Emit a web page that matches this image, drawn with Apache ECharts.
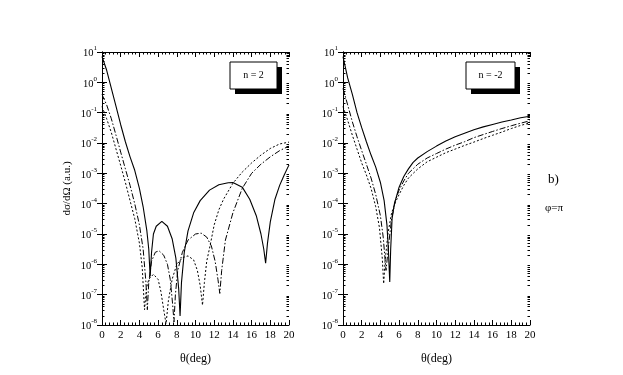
<!DOCTYPE html>
<html>
<head>
<meta charset="utf-8">
<script src="https://cdn.jsdelivr.net/npm/echarts@6/dist/echarts.min.js"></script>
<style>
html,body{margin:0;padding:0;background:#fff;}
#chart{width:623px;height:375px;}
</style>
</head>
<body>
<div id="chart"></div>
<script>
// ---- data: [theta (deg), dsigma/dOmega (a.u.)] ----
const xTicks = [0, 2, 4, 6, 8, 10, 12, 14, 16, 18, 20];
const yDecades = [-8, -7, -6, -5, -4, -3, -2, -1, 0, 1];
const yMinorMantissas = [2, 3, 4, 5, 6, 7, 8, 9];
const panelLabels = ['n = 2', 'n = -2'];

const n2Solid = [[0,7.1],[0.5,2.5],[1,0.63],[1.5,0.16],[2,4e-2],[2.5,1.1e-2],[3,3.5e-3],[3.5,1.26e-3],[4,3.2e-4],[4.4,7.9e-5],[4.8,1.26e-5],[5,3.2e-6],[5.15,4e-7],[5.3,2.5e-6],[5.5,1e-5],[5.8,1.8e-5],[6.4,2.6e-5],[7,1.8e-5],[7.5,7e-6],[7.9,1.6e-6],[8.2,1.6e-7],[8.35,2e-8],[8.5,2.5e-7],[8.8,2.5e-6],[9.2,1.26e-5],[9.8,5e-5],[10.5,1.26e-4],[11.5,2.8e-4],[12.5,4.2e-4],[13.5,4.9e-4],[14,5e-4],[15,3.5e-4],[15.8,1.4e-4],[16.5,4e-5],[17,1e-5],[17.3,3.2e-6],[17.5,1.1e-6],[17.7,5e-6],[18,2.5e-5],[18.5,1.4e-4],[19,4e-4],[19.5,9e-4],[20,1.9e-3]];
const n2DashDot = [[0,0.4],[0.5,0.18],[1,6.3e-2],[1.5,1.8e-2],[2,5e-3],[2.5,1.4e-3],[3,4e-4],[3.5,1e-4],[4,2e-5],[4.4,3.2e-6],[4.7,2.5e-7],[4.85,3.2e-8],[5,2.5e-7],[5.3,1.26e-6],[5.7,2.5e-6],[6.1,2.8e-6],[6.6,2e-6],[7,1e-6],[7.3,3.2e-7],[7.55,5e-8],[7.7,1.26e-8],[7.85,1e-7],[8.1,6.3e-7],[8.6,2.5e-6],[9.2,6.3e-6],[10,1e-5],[10.6,1.07e-5],[11.2,7.9e-6],[11.7,4e-6],[12.1,1.26e-6],[12.4,3.2e-7],[12.6,1.1e-7],[12.8,6.3e-7],[13.2,6.3e-6],[14,5e-5],[15,3.2e-4],[16,1e-3],[17,2e-3],[18,3.5e-3],[19,5.6e-3],[20,7.9e-3]];
const n2Dotted = [[0,0.16],[0.5,6.3e-2],[1,2.2e-2],[1.5,6.3e-3],[2,1.8e-3],[2.5,5e-4],[3,1.26e-4],[3.5,3.2e-5],[4,5e-6],[4.3,7.9e-7],[4.55,3.2e-8],[4.75,1.6e-7],[5,3.2e-7],[5.5,4.7e-7],[6,3.2e-7],[6.3,1.26e-7],[6.6,3.2e-8],[6.85,1.1e-8],[7.1,6.3e-8],[7.5,3.2e-7],[8,1e-6],[8.6,1.66e-6],[9.2,1.9e-6],[9.8,1.4e-6],[10.2,6.3e-7],[10.5,2e-7],[10.75,4.5e-8],[10.95,2.5e-7],[11.2,1.26e-6],[11.55,4e-6],[12,2e-5],[12.5,6.3e-5],[13,1.4e-4],[14,4.7e-4],[15,1.1e-3],[16,2.2e-3],[17,4e-3],[18,6.6e-3],[19,9.3e-3],[20,1.07e-2]];

const nm2Solid = [[0,7.1],[0.5,1.4],[1,0.4],[1.5,0.1],[2,3.2e-2],[2.5,1.1e-2],[3,4e-3],[3.5,1.6e-3],[4,5e-4],[4.4,1.26e-4],[4.7,2e-5],[4.85,3.2e-6],[5,2.6e-7],[5.1,3.2e-6],[5.25,3.2e-5],[5.5,1e-4],[6,3.5e-4],[6.5,7.9e-4],[7,1.4e-3],[7.5,2.3e-3],[8,3.2e-3],[9,5.2e-3],[10,7.9e-3],[11,1.17e-2],[12,1.6e-2],[13,2.1e-2],[14,2.75e-2],[15,3.4e-2],[16,4.1e-2],[17,4.9e-2],[18,5.75e-2],[19,6.8e-2],[20,7.6e-2]];
const nm2DashDot = [[0,0.63],[0.5,0.18],[1,5e-2],[1.5,1.6e-2],[2,5.6e-3],[2.5,2e-3],[3,7e-4],[3.5,2e-4],[4,4e-5],[4.3,7.9e-6],[4.6,6.3e-7],[4.9,5e-6],[5.2,3.2e-5],[5.6,1.26e-4],[6,2.8e-4],[6.5,5.6e-4],[7,1e-3],[8,2e-3],[9,3.2e-3],[10,4.5e-3],[11,6.3e-3],[12,8.5e-3],[13,1.1e-2],[14,1.5e-2],[15,1.9e-2],[16,2.4e-2],[17,3e-2],[18,3.7e-2],[19,4.5e-2],[20,5.4e-2]];
const nm2Dotted = [[0,0.16],[0.5,5.6e-2],[1,1.8e-2],[1.5,6.3e-3],[2,2.2e-3],[2.5,8.9e-4],[3,3.2e-4],[3.5,7.9e-5],[3.9,1.6e-5],[4.2,1.6e-6],[4.35,2.3e-7],[4.5,1.26e-6],[4.8,1e-5],[5.2,5e-5],[5.6,1.1e-4],[6,2e-4],[6.5,4e-4],[7,7e-4],[8,1.4e-3],[9,2.4e-3],[10,3.4e-3],[11,4.8e-3],[12,6.3e-3],[13,8.3e-3],[14,1.07e-2],[15,1.4e-2],[16,1.8e-2],[17,2.3e-2],[18,3e-2],[19,3.8e-2],[20,4.6e-2]];

// ---- chart ----
const SERIF = '"Liberation Serif", "DejaVu Serif", serif';
const chart = echarts.init(document.getElementById('chart'), null, {renderer: 'canvas'});

// log-spaced minor tick values (2..9 x 10^k) for the decades shown
const yMinorValues = [];
yDecades.slice(0, -1).forEach(function (e) {
  yMinorMantissas.forEach(function (m) { yMinorValues.push(Number((m + 'e' + e))); });
});

function xAx(grid, pos, showLabels, name) {
  return {
    type: 'value', gridIndex: grid, position: pos, min: xTicks[0], max: xTicks[xTicks.length - 1], interval: 2,
    name: name || '', nameLocation: 'middle', nameGap: 28,
    nameTextStyle: {fontFamily: SERIF, fontSize: 12, color: '#000'},
    axisLine: {show: true, onZero: false, lineStyle: {color: '#000', width: 1}},
    axisTick: {show: true, inside: true, length: 5, lineStyle: {color: '#000'}},
    minorTick: {show: true, splitNumber: 5, length: 2.5, lineStyle: {color: '#000'}},
    splitLine: {show: false},
    axisLabel: {show: showLabels, margin: 5, fontFamily: SERIF, fontSize: 11, color: '#000'}
  };
}
function yAx(grid, pos, showLabels, name) {
  return {
    type: 'log', logBase: 10, gridIndex: grid, position: pos, min: 1e-8, max: 10, splitNumber: 10,
    name: name || '', nameLocation: 'middle', nameGap: 29,
    nameTextStyle: {fontFamily: SERIF, fontSize: 11, color: '#000'},
    axisLine: {show: true, lineStyle: {color: '#000', width: 1}},
    axisTick: {show: true, inside: true, length: 5, lineStyle: {color: '#000'}},
    minorTick: {show: false},
    splitLine: {show: false},
    axisLabel: {
      show: showLabels, margin: 5,
      formatter: function (v) {
        const e = Math.round(Math.log10(v));
        return '{b|10}{s|' + e + '}';
      },
      rich: {
        b: {fontFamily: SERIF, fontSize: 10.5, color: '#000', lineHeight: 14, verticalAlign: 'bottom'},
        s: {fontFamily: SERIF, fontSize: 7, color: '#000', lineHeight: 14, verticalAlign: 'top'}
      }
    }
  };
}
// overlay axis carrying only the log-spaced minor ticks
function yMinorAx(grid, pos) {
  return {
    type: 'log', logBase: 10, gridIndex: grid, position: pos, min: 1e-8, max: 10,
    axisLine: {show: false},
    axisTick: {show: true, inside: true, length: 2.5, customValues: yMinorValues, lineStyle: {color: '#000'}},
    axisLabel: {show: false, customValues: yMinorValues},
    splitLine: {show: false}
  };
}
function ser(data, xi, yi, type, w) {
  return {
    type: 'line', data: data, xAxisIndex: xi, yAxisIndex: yi, showSymbol: false, symbol: 'none',
    clip: true, animation: false,
    lineStyle: {color: '#000', width: w, type: type}
  };
}

const dashDot = [6, 2, 1.5, 2];
const dotted = [2, 2];

chart.setOption({
  backgroundColor: '#fff',
  animation: false,
  grid: [
    {left: 102, top: 52, width: 187, height: 273},
    {left: 343, top: 52, width: 187, height: 273}
  ],
  xAxis: [
    xAx(0, 'bottom', true, 'θ(deg)'), xAx(0, 'top', false),
    xAx(1, 'bottom', true, 'θ(deg)'), xAx(1, 'top', false)
  ],
  yAxis: [
    yAx(0, 'left', true, 'dσ/dΩ (a.u.)'), yAx(0, 'right', false),
    yAx(1, 'left', true), yAx(1, 'right', false),
    yMinorAx(0, 'left'), yMinorAx(0, 'right'),
    yMinorAx(1, 'left'), yMinorAx(1, 'right')
  ],
  series: [
    ser(n2Solid, 0, 0, 'solid', 1.1),
    ser(n2DashDot, 0, 0, dashDot, 1),
    ser(n2Dotted, 0, 0, dotted, 1),
    ser(nm2Solid, 2, 2, 'solid', 1.1),
    ser(nm2DashDot, 2, 2, dashDot, 1),
    ser(nm2Dotted, 2, 2, dotted, 1)
  ],
  graphic: [
    {type: 'rect', shape: {x: 235, y: 67, width: 47, height: 27}, style: {fill: '#000'}},
    {type: 'rect', shape: {x: 230, y: 62, width: 47, height: 27}, style: {fill: '#fff', stroke: '#000', lineWidth: 1}},
    {type: 'text', x: 253.5, y: 75.5, style: {text: panelLabels[0], font: '10px ' + SERIF, fill: '#000', textAlign: 'center', textVerticalAlign: 'middle'}},
    {type: 'rect', shape: {x: 471, y: 67, width: 49, height: 27}, style: {fill: '#000'}},
    {type: 'rect', shape: {x: 466, y: 62, width: 49, height: 27}, style: {fill: '#fff', stroke: '#000', lineWidth: 1}},
    {type: 'text', x: 490.5, y: 75.5, style: {text: panelLabels[1], font: '10px ' + SERIF, fill: '#000', textAlign: 'center', textVerticalAlign: 'middle'}},
    {type: 'text', x: 548, y: 180, style: {text: 'b)', font: '13px ' + SERIF, fill: '#000', textAlign: 'left', textVerticalAlign: 'middle'}},
    {type: 'text', x: 545, y: 208, style: {text: 'φ=π', font: '11px ' + SERIF, fill: '#000', textAlign: 'left', textVerticalAlign: 'middle'}}
  ]
});
</script>
</body>
</html>
